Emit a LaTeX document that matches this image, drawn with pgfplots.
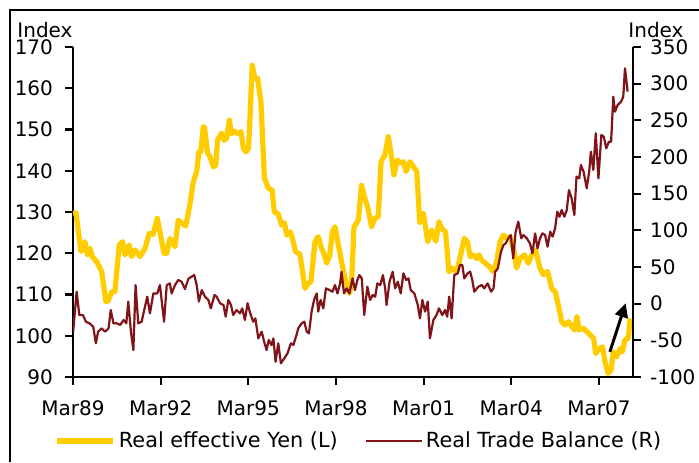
\documentclass[border=0pt]{standalone}
\usepackage{fontspec}
\setmainfont{DejaVu Sans}
\usepackage{pgfplots}
\pgfplotsset{compat=1.18}
\usepackage{pgfplotstable}
\usetikzlibrary{arrows.meta}

\definecolor{yenyellow}{RGB}{255,204,0}
\definecolor{tradered}{RGB}{128,20,24}

% Months since March 1989, index level (left scale)
\pgfplotstableread{
m yen
0 129.7
1.2 129.8
3.3 120.4
4.9 122.8
5.9 119.6
7 121.2
7.9 119.2
9.7 118
11.8 115.5
13.5 108.3
14.4 108.4
15.9 110.7
17.2 110.7
19 122
20.4 122.8
21.3 119.6
23.1 122
24 119.2
25.5 120.8
27.5 119.2
29.6 121.2
31.3 124.8
32.9 124.6
34.6 128.5
35.7 125.2
37.4 120
38.5 120
39.8 123.6
41.9 121.6
43.2 128
46.3 126.6
48 131.7
49.4 137.3
50.8 139.8
51.7 144.6
52.5 144.6
53.5 150.7
54 150.5
55.3 144.2
56.2 143.5
57.6 141
58.6 141.2
59.4 147.5
61 149.1
62.1 147.4
63.1 147.9
64.2 152.3
65.1 149
66.3 149.6
67.6 149
69 149.5
70 145.4
71.1 144.6
72.1 145.4
72.8 154.3
73.6 165.6
74.7 162.4
75.8 162.4
77.2 156.7
78.6 138.2
80.2 135.8
81.8 135.3
82.7 130
84.3 129.5
85.7 126.8
86.8 127.4
87.8 124.4
89.2 125.2
90.1 123.6
91.4 120.4
93.2 119.8
95.3 111.5
96.6 112.7
97.7 113.1
99.4 122.8
100.7 124
102.1 121.2
103 120
104.2 117.6
105.5 119.6
106.5 125.2
107.6 126.4
109 122
110.3 118
111.7 113.9
113.5 110.3
114.4 112.3
115.4 126.4
117.2 128
118.5 136.5
119.9 133.3
121.3 130.5
122.6 126.4
124 128.5
125.4 128.9
126.5 142.2
128.1 143.8
129.5 148.3
130.9 143
131.8 139
133.2 142.6
134.6 141.8
135.7 142.2
136.8 139.8
138.4 142.2
139.8 141
141.2 139.8
142.4 127.5
143.9 129.7
145.7 122.8
147.3 125.6
149 122.9
150.3 127.7
151.4 126
153 125.2
154.4 115.5
155.8 116.4
157.6 115.5
158.9 118.7
160.7 123.6
162 122.8
163.1 119.2
164.5 119.6
165.8 118.7
166.8 119.6
167.9 118.3
169.3 117.6
170.9 116.8
172.7 115.5
174.1 118.3
175.4 122.8
176.8 124.4
178.2 123.6
179.6 124
181.2 120.4
182.2 116.4
183.6 118.7
185.4 119.6
187 117.6
188.4 119.6
190 120.8
191.8 116.4
193.2 114.8
194.9 115.6
196.6 111.5
198 110.7
199.3 107.5
200.7 103.4
202.1 102.6
203.5 103.4
204.9 102.2
206 101.4
207 104.6
207.9 101.4
209.7 101.8
211.1 101
212.4 100.2
213.8 99.4
214.7 95.7
216.1 96.9
217.5 97.3
218.5 93.7
219.8 90.9
221 91.7
221.9 96.1
223.3 94.9
224.7 96.9
225.6 96.1
226.7 99
228.1 99.4
228.8 104.2
}\yentable

% Months since March 1989, trade balance index (right scale)
\pgfplotstableread{
m bal
0 -40.5
1.5 16.3
2.6 -15.5
4.1 -15.5
5.3 -24.6
6.8 -26.8
8.3 -31.4
9.4 -54
10.3 -38.2
11.8 -33.6
13.2 -38.2
14.6 -33.6
15.5 -8.6
16.6 -26.8
18 -26.8
19.4 -29
20.8 -22.2
21.9 -26.8
22.7 2.8
23.8 -38.2
24.8 -63.2
25.7 25.4
26.8 -26.8
28.2 -24.6
29.1 -10.9
30.5 9.5
31.6 -13.2
33 14
34.6 14
35.7 25.4
37.4 -24.6
38.5 25.4
39.8 27.7
40.5 14
41.9 25.4
43.2 32.3
44.6 30
46 20
47.4 34
48.7 36.8
49.8 39
50.8 25.4
51.7 2.8
52.9 18.6
54.2 9.5
55.6 5
56.6 -6.4
58.1 11.8
59 9.5
60.4 0.5
61.8 -1.8
62.7 -17.7
63.8 5
64.9 -1.8
65.8 -15.5
67.2 -8.6
68.6 -13.2
69.5 -6.4
70.6 -22.2
71.7 0.5
72.6 -10.9
74 -24.6
74.9 -20
76.1 -47.3
77.5 -38.2
78.5 -51.8
79.5 -63.2
80.4 -49.5
81.5 -56.4
82.3 -47.3
83.2 -79.1
84.3 -54
85.4 -81.3
86.8 -74.5
88.1 -67.7
89.5 -54
90.5 -56.4
91.8 -42.7
92.5 -33.6
93.9 -26.8
95 -24.6
96 -38.2
96.9 -40.5
98 -10.9
99 5
100.1 14
100.7 -10.9
101.7 5
102.8 -6.4
103.9 20.9
105.3 18.6
106.6 16.3
107.6 25.4
108.6 14
109.7 27.7
110.3 43.6
111.3 14
112.4 20.9
113.5 14
114.8 34.5
115.8 18.6
116.8 32.3
117.6 39
118.6 34.5
119.6 -15.5
120.9 23.2
122 5
123.1 11.8
124.1 9.5
125 27.7
126.2 25.4
127.3 39
128.2 20.9
128.8 -1.8
130 30
131.3 43.6
132.3 20.9
133.4 30
134.6 14
135.7 41.4
136.8 32.3
137.8 34.5
138.7 18.6
140.2 14
141.2 2.8
141.6 -1.8
142.5 -20
143.5 5
144.6 -10.9
145.7 2.8
146.6 -47.3
148 -22.2
149.3 -15.5
150.3 -6.4
151.7 -15.5
152.8 -8.6
153.7 -17.7
154.5 9.5
155.5 -20
156.6 39
158 41.4
158.9 52.7
159.9 52.7
160.7 34.5
162.1 41.4
163.1 43.6
164 32.3
164.8 16.3
166.5 23.2
167.9 25.4
168.9 20.9
170.3 27.7
171.7 16.3
172.7 20.9
173.4 43.6
174.5 48.2
175.8 70.9
176.8 80
177.7 82.3
178.8 89.1
179.8 93.6
180.8 61.8
181.8 98.2
182.9 111.8
184.1 89.1
185 93.6
186.4 89.1
187.7 82
188.7 68.7
189.8 95.9
190.8 75.4
191.8 89.1
192.8 95.9
193.9 93.6
194.9 77.7
196 98.2
197 91.4
198 102.7
198.9 125.5
199.8 118.6
200.7 127.7
201.8 118.6
202.8 127.7
203.7 155
204.8 143.6
205.9 120.9
206.8 173.2
207.9 170.9
208.6 189.1
209.7 180
211 157.3
212 180
212.7 207.3
213.7 182.3
214.7 232.3
215.8 170.9
217 230
218 227.7
219 211.8
220.1 220.9
221 220.9
221.9 282.3
222.6 261.8
223.7 270.9
225.1 275.5
226 282.3
226.7 321
227.8 289.1
}\baltable

\pgfplotsset{
  chartbase/.style={
    at={(0pt,0pt)}, anchor=south west,
    scale only axis, width=280pt, height=165pt,
    xmin=0, xmax=230, enlargelimits=false,
    clip mode=individual,
    tick align=outside, major tick length=4pt,
    every tick/.style={black, line width=1.1pt},
    axis line style={line width=1.2pt, -},
    ticklabel style={font=\fontsize{10}{12}\selectfont},
    /pgf/number format/assume math mode=true,
  },
}

\begin{document}
\begin{tikzpicture}[font=\fontsize{10}{12}\selectfont]
\useasboundingbox (-36.5pt,-42.5pt) rectangle (313pt,188.5pt);
% outer frame (top and left edges)
\draw[line width=1.3pt] (-31.5pt,-42.5pt) -- (-31.5pt,183.5pt) -- (313pt,183.5pt);

% left scale: real effective yen
\begin{axis}[chartbase,
  axis x line*=bottom, axis y line*=left,
  ymin=90, ymax=170, ytick={90,100,...,170},
  xtick={0,36,...,216},
  xticklabels={Mar89,Mar92,Mar95,Mar98,Mar01,Mar04,Mar07},
  xticklabel style={yshift=-4.5pt},
  yticklabel style={xshift=-2.5pt},
]
\addplot[yenyellow, line width=2.6pt, line join=round, no markers]
  table[x=m, y=yen] {\yentable};
\draw[line width=1.5pt, -{Triangle[length=7pt,width=6.5pt]}]
  (axis cs:220.5,96.1) -- (axis cs:227,107.9);
\node[anchor=base, inner sep=0pt] at (rel axis cs:-0.05,1.0303) {Index};
\end{axis}

% right scale: real trade balance
\begin{axis}[chartbase,
  axis x line=none, axis y line*=right,
  ymin=-100, ymax=350, ytick={-100,-50,...,350},
  yticklabel style={xshift=1pt},
  legend columns=2,
  legend cell align=left,
  legend style={draw=none, fill=none, at={(0.5116,-0.194)}, anchor=center,
    font=\fontsize{10.4}{12}\selectfont,
    nodes={inner sep=1.5pt},
    /tikz/every even column/.append style={column sep=12pt}},
  legend image code/.code={\draw[#1] (0pt,0pt) -- (28pt,0pt);},
]
\addlegendimage{yenyellow, line width=2.6pt}
\addlegendentry{Real effective Yen (L)}
\addplot[tradered, line width=1.1pt, line join=round, no markers]
  table[x=m, y=bal] {\baltable};
\addlegendentry{Real Trade Balance (R)}
\node[anchor=base, inner sep=0pt] at (rel axis cs:1.041,1.0303) {Index};
\end{axis}
\end{tikzpicture}
\end{document}
